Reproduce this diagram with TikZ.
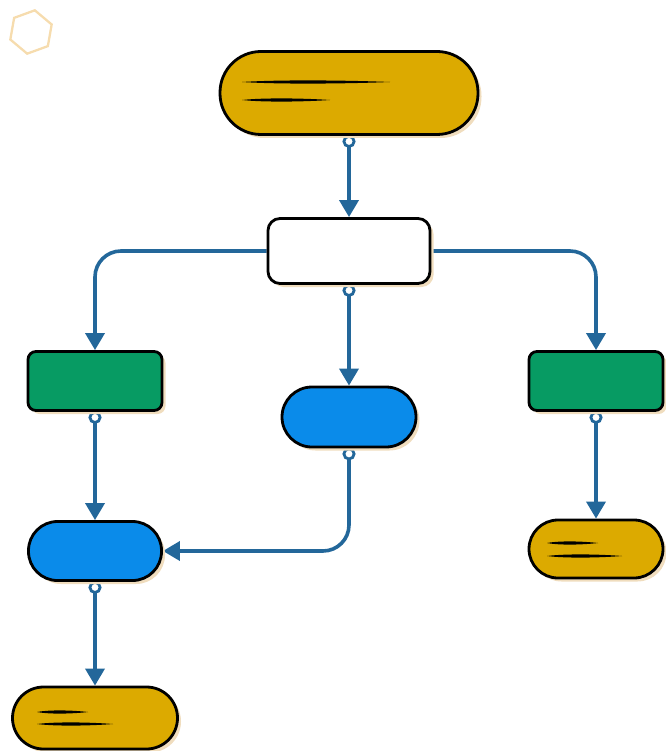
\documentclass[tikz,border=0pt]{standalone}
\usetikzlibrary{arrows.meta,shadows,shapes.geometric}
\definecolor{gold}{HTML}{DCAA00}
\definecolor{leaf}{HTML}{079B63}
\definecolor{sky}{HTML}{0A8BEA}
\definecolor{wire}{HTML}{23679A}
\definecolor{tan}{HTML}{F0DDBE}
\definecolor{hexc}{HTML}{F6DCAE}
\pgfdeclarelayer{back}
\pgfsetlayers{back,main}
\begin{document}
\begin{tikzpicture}[x=1pt,y=-1pt,
  box/.style={draw=black, line width=2.8pt, inner sep=0pt,
    drop shadow={shadow xshift=3.5pt, shadow yshift=-3.5pt, fill=tan, opacity=1}},
  pill/.style={box, rounded corners=#1},
  conn/.style={draw=wire, line width=3.6pt, rounded corners=26pt,
    -{Triangle[length=17pt,width=19pt]}},
  startc/.style={shorten <=-1pt, {Circle[open,length=13pt,width=13pt,fill=white,line width=2.8pt]}-{Triangle[length=17pt,width=19pt]}},
  scrib/.style={fill=black}
]
\useasboundingbox (0,0) rectangle (665,751);

\node[regular polygon, regular polygon sides=6, minimum size=44pt, draw=hexc,
  line width=2.3pt, rotate=20] (hex) at (31,32) {};

\node[pill=41pt, fill=gold, minimum width=258pt, minimum height=83pt] (top) at (349,93) {};
\node[pill=12pt, fill=white, minimum width=162pt, minimum height=65pt] (mid) at (349,251) {};
\node[pill=8pt, fill=leaf, minimum width=134pt, minimum height=59pt] (gl) at (95,381) {};
\node[pill=8pt, fill=leaf, minimum width=134pt, minimum height=59pt] (gr) at (596,381) {};
\node[pill=30pt, fill=sky, minimum width=134pt, minimum height=60pt] (bm) at (349,417) {};
\node[pill=29pt, fill=sky, minimum width=133pt, minimum height=59pt] (bl) at (95,551) {};
\node[pill=29pt, fill=gold, minimum width=134pt, minimum height=58pt] (yr) at (596,549) {};
\node[pill=31pt, fill=gold, minimum width=165pt, minimum height=62pt] (yb) at (95,718) {};

% scribbled lines (x1, x2, y)
\newcommand\scribble[3]{%
  \fill[scrib] (#1,#3) .. controls ({#1+0.25*(#2-#1)},{#3-2.4}) and ({#1+0.7*(#2-#1)},{#3-1.8}) .. (#2,#3)
    .. controls ({#1+0.7*(#2-#1)},{#3+1.8}) and ({#1+0.25*(#2-#1)},{#3+2.4}) .. cycle;}
\scribble{242}{390}{82}
\scribble{242}{330}{100}
\scribble{547}{598}{543}
\scribble{547}{622}{556}
\scribble{37}{88}{712}
\scribble{37}{113}{724}

% connectors (behind the nodes)
\begin{pgfonlayer}{back}
\draw[conn, startc] (top.south) -- (mid.north);
\draw[conn] (mid.west) -| (gl.north);
\draw[conn] (mid.east) -| (gr.north);
\draw[conn, startc] (mid.south) -- (bm.north);
\draw[conn, startc] (gl.south) -- (bl.north);
\draw[conn, startc] (bm.south) |- (bl.east);
\draw[conn, startc] (gr.south) -- (yr.north);
\draw[conn, startc] (bl.south) -- (yb.north);
\end{pgfonlayer}
\end{tikzpicture}
\end{document}
